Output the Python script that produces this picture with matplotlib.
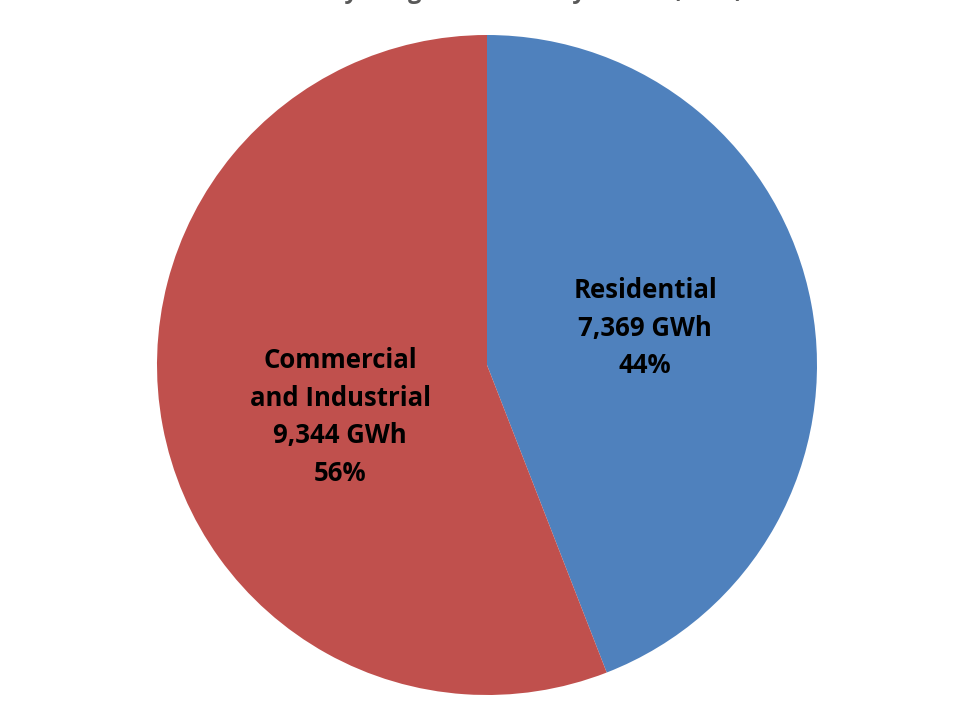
import matplotlib
matplotlib.use("Agg")
import matplotlib.pyplot as plt

title = "Electricity Usage in Hawaii by Sector (2010)"
categories = ["Residential", "Commercial\nand Industrial"]
values_gwh = [7369, 9344]
colors = ["#4F81BD", "#C0504D"]
label_pos = [(0.479, 0.112), (-0.445, -0.158)]

W, H = 954, 715
fig = plt.figure(figsize=(W / 100, H / 100), dpi=100)
cx, cy, r = 487, 365, 330
ax = fig.add_axes([(cx - r) / W, (H - cy - r) / H, 2 * r / W, 2 * r / H])
ax.pie(values_gwh, colors=colors, startangle=90, counterclock=False,
       radius=1, wedgeprops=dict(linewidth=0))
ax.set_xlim(-1, 1)
ax.set_ylim(-1, 1)
ax.set_aspect("equal")
ax.axis("off")

total = sum(values_gwh)
for cat, v, (x, y) in zip(categories, values_gwh, label_pos):
    pct = round(100 * v / total)
    ax.text(x, y, f"{cat}\n{v:,} GWh\n{pct}%", ha="center", va="center",
            fontsize=18.5, fontweight="bold", family="Open Sans",
            color="black", linespacing=1.5)

fig.text(0.515, 1 + 2.5 / H, title, ha="center", va="baseline",
         fontsize=17, fontweight="bold", family="Open Sans", color="#595959")

fig.savefig("out.png", dpi=100)
